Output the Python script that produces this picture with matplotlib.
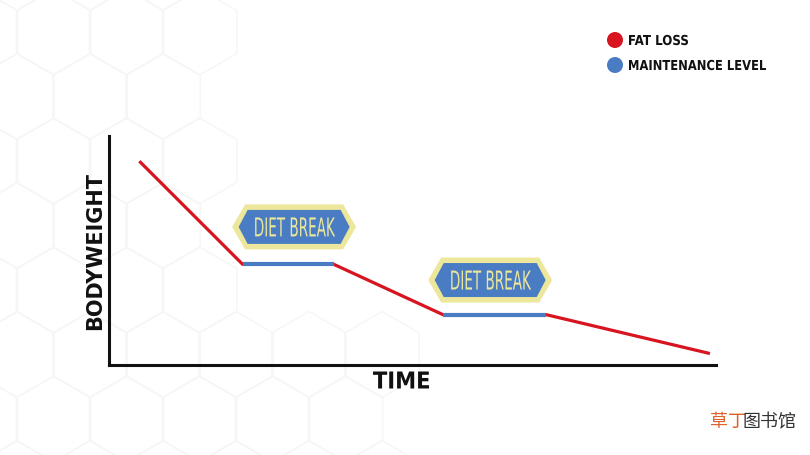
import numpy as np
import matplotlib.pyplot as plt
from matplotlib.patches import Polygon, Ellipse, PathPatch, RegularPolygon
from matplotlib.textpath import TextPath
from matplotlib.font_manager import FontProperties
from matplotlib.transforms import Affine2D

# data (axis units 0-100)
fat_time = [5, 22, 37, 55, 72, 99]
fat_weight = [89, 44, 44, 22, 22, 5]
maint_time = [[22, 37], [55, 72]]
maint_weight = [[44, 44], [22, 22]]
break_x = [30.5, 62.8]
break_y = [60.3, 37.1]
break_label = 'DIET BREAK'
legend_labels = ['FAT LOSS', 'MAINTENANCE LEVEL']

RED = '#d7141f'
BLUE = '#4a7cc4'
YEL = '#ece79b'

W, H = 810, 456
fig = plt.figure(figsize=(8.1, 4.56), dpi=100)

# faint honeycomb in the background (pixel coords, y down)
bg = fig.add_axes([0, 0, 1, 1], zorder=-1)
bg.set_xlim(0, W)
bg.set_ylim(H, 0)
bg.axis('off')
side = 43
for k in range(-5, 4):
    cy = 291 + 64.5 * k
    for j in range(-1, 5):
        cx = 53.5 + 73 * j + (36.5 if k % 2 else 0)
        if cx > 470 or (cx > 200 and cy < 330):
            continue
        bg.add_patch(RegularPolygon((cx, cy), 6, radius=side, orientation=0,
                                    fc='none', ec='#f6f6f6', lw=1))


def squeezed_text(s, x_px, y_px, cap_px, width_px, color, weight='normal', ha='center'):
    # text drawn as a path so it can be squeezed to a condensed look
    tp = TextPath((0, 0), s, size=100, prop=FontProperties(family='DejaVu Sans', weight=weight))
    cap = TextPath((0, 0), 'H', size=100, prop=FontProperties(family='DejaVu Sans', weight=weight))
    ext = tp.get_extents()
    ky = cap_px / cap.get_extents().height
    kx = width_px / ext.width
    x0 = ext.x0 + (ext.width / 2 if ha == 'center' else 0)
    tr = Affine2D().translate(-x0, -cap.get_extents().height / 2).scale(kx, -ky).translate(x_px, y_px)
    bg2.add_patch(PathPatch(tr.transform_path(tp), fc=color, ec='none', zorder=10))


ax = fig.add_axes([109 / W, 90 / H, 607 / W, 229 / H])
ax.set_xlim(0, 100)
ax.set_ylim(0, 100)
ax.patch.set_alpha(0)

ax.plot(fat_time, fat_weight, color=RED, lw=2.3, solid_capstyle='butt', zorder=2)
for t, w in zip(maint_time, maint_weight):
    ax.plot(t, w, color=BLUE, lw=3, solid_capstyle='butt', zorder=3)

for s in ['top', 'right']:
    ax.spines[s].set_visible(False)
for s in ['left', 'bottom']:
    ax.spines[s].set_linewidth(2.2)
    ax.spines[s].set_color('#111111')
ax.set_xticks([])
ax.set_yticks([])
ax.set_ylabel('BODYWEIGHT', fontsize=15, fontweight='bold', labelpad=3, color='#111111')

# top overlay in pixel coords for badges, legend and labels
bg2 = fig.add_axes([0, 0, 1, 1], zorder=5)
bg2.set_xlim(0, W)
bg2.set_ylim(H, 0)
bg2.axis('off')


def to_px(x, y):
    d = ax.transData.transform((x, y))
    return d[0], H - d[1]


def hexagon(cx, cy, w, h, d):
    return [(cx - w / 2, cy), (cx - w / 2 + d, cy - h / 2), (cx + w / 2 - d, cy - h / 2),
            (cx + w / 2, cy), (cx + w / 2 - d, cy + h / 2), (cx - w / 2 + d, cy + h / 2)]


for bx, by in zip(break_x, break_y):
    cx, cy = to_px(bx, by)
    bg2.add_patch(Polygon(hexagon(cx, cy, 124, 45, 13), closed=True, fc=YEL, ec='none'))
    bg2.add_patch(Polygon(hexagon(cx, cy, 111, 34, 9), closed=True, fc=BLUE, ec='none'))
    squeezed_text(break_label, cx + 1, cy, 19, 80, YEL)

squeezed_text('TIME', 401, 381, 17, 56, '#111111', weight='bold')

# legend
for yy, c, lab, wd in zip([41, 66], [RED, BLUE], legend_labels, [59, 137]):
    bg2.add_patch(Ellipse((615, yy), 16, 16, fc=c, ec='none'))
    squeezed_text(lab, 629, yy, 10, wd, '#111111', weight='bold', ha='left')

# watermark
fig.text(710 / W, 1 - 422 / H, '草丁', fontsize=13, color='#e0622a',
         family=['Noto Sans CJK SC', 'DejaVu Sans'], va='center')
fig.text(743 / W, 1 - 422 / H, '图书馆', fontsize=13, color='#333333',
         family=['Noto Sans CJK SC', 'DejaVu Sans'], va='center')

fig.savefig('out.png', dpi=100)
